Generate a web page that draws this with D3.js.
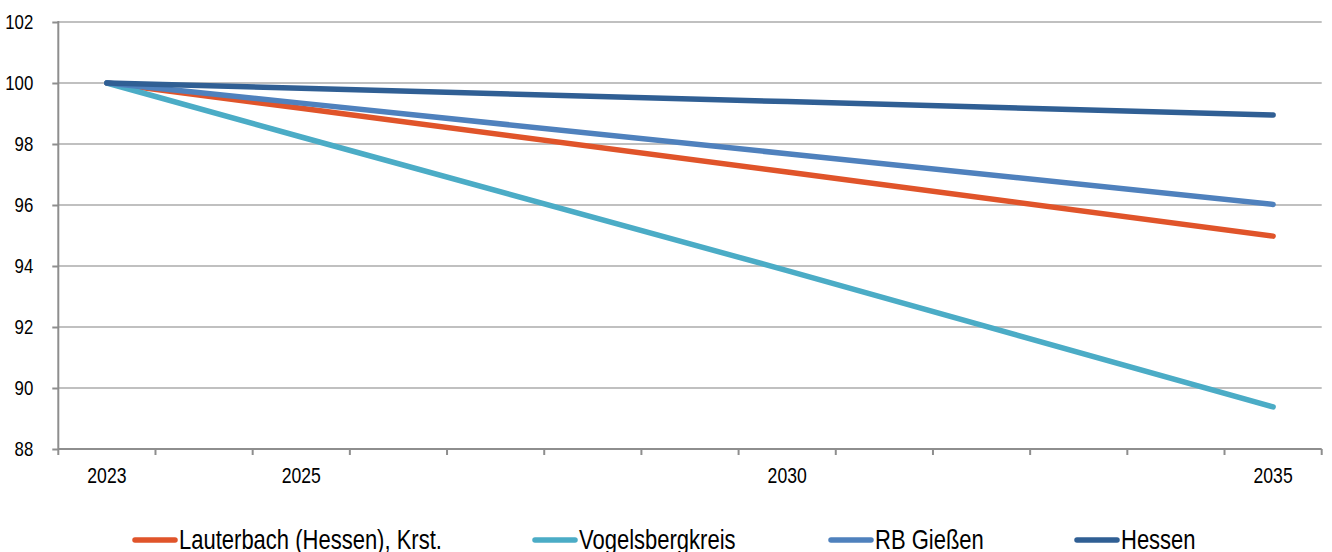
<!DOCTYPE html>
<html>
<head>
<meta charset="utf-8">
<script src="https://cdn.jsdelivr.net/npm/d3@7"></script>
<style>
  body { margin: 0; background: #fff; }
  text { font-family: "Liberation Sans", Arial, sans-serif; fill: #000; }
</style>
</head>
<body>
<script>
// years on the category axis
var years = [2023, 2024, 2025, 2026, 2027, 2028, 2029, 2030, 2031, 2032, 2033, 2034, 2035]
var labelYears = [2023, 2025, 2030, 2035]
var yTicks = [88, 90, 92, 94, 96, 98, 100, 102]

// index 2023 = 100, read at 2023, 2025, 2030, 2035
var dataYears = [2023, 2025, 2030, 2035]
var lauterbach = [100, 99.17, 97.08, 94.98]
var vogelsberg = [100, 98.23, 93.85, 89.38]
var giessen = [100, 99.34, 97.68, 96.02]
var hessen = [100, 99.83, 99.39, 98.95]

var seriesNames = ["Lauterbach (Hessen), Krst.", "Vogelsbergkreis", "RB Gießen", "Hessen"]
var seriesColors = ["#E0542A", "#4BACC6", "#4F81BD", "#305F94"]
var seriesValues = [lauterbach, vogelsberg, giessen, hessen]

;(function () {
var width = 1332, height = 552
var mLeft = 58.3, mRight = 1321.7, mTop = 22, mBottom = 449

var svg = d3.select("body").append("svg")
  .attr("width", width)
  .attr("height", height)

var x = d3.scaleBand().domain(years).range([mLeft, mRight])
var y = d3.scaleLinear().domain([88, 102]).range([mBottom, mTop])

// narrow look (Arial Narrow style) by squeezing the glyphs
function narrow(sel) {
  sel.each(function () {
    var len = this.getComputedTextLength()
    d3.select(this).attr("textLength", len * 0.8).attr("lengthAdjust", "spacingAndGlyphs")
  })
}

// gridlines
svg.selectAll(".grid")
  .data(yTicks.filter(function(d) { return d > 88 }))
  .enter().append("line")
  .attr("x1", mLeft)
  .attr("x2", mRight)
  .attr("y1", function(d) { return y(d) })
  .attr("y2", function(d) { return y(d) })
  .attr("stroke", "#ABABAB")
  .attr("stroke-width", 1.5)

// y axis
var yAxis = svg.append("g")
  .attr("transform", "translate(" + mLeft + " 0)")
  .call(d3.axisLeft(y).tickValues(yTicks).tickSize(6).tickPadding(19))
yAxis.select(".domain").attr("stroke", "#8E8E8E").attr("stroke-width", 2)
  .attr("d", "M0," + (mTop - 1) + "V" + mBottom)
yAxis.selectAll(".tick line").attr("stroke", "#8E8E8E").attr("stroke-width", 2)
yAxis.selectAll(".tick text").attr("font-family", null).style("font-size", "21px").attr("fill", "#000").call(narrow)

// x axis: ticks at category boundaries
var xAxis = svg.append("g")
  .attr("transform", "translate(0 " + mBottom + ")")
xAxis.append("line")
  .attr("x1", mLeft).attr("x2", mRight)
  .attr("stroke", "#8E8E8E").attr("stroke-width", 2)
var bounds = years.map(function(d) { return x(d) }).concat([mRight])
xAxis.selectAll(".xt")
  .data(bounds)
  .enter().append("line")
  .attr("x1", function(d) { return d })
  .attr("x2", function(d) { return d })
  .attr("y1", 0)
  .attr("y2", 6)
  .attr("stroke", "#8E8E8E").attr("stroke-width", 2)
xAxis.selectAll(".xl")
  .data(labelYears)
  .enter().append("text")
  .attr("x", function(d) { return x(d) + x.bandwidth() / 2 })
  .attr("y", 34)
  .attr("text-anchor", "middle")
  .style("font-size", "22px")
  .text(function(d) { return d })
  .call(narrow)

// lines
var line = d3.line()
  .x(function(d, i) { return x(dataYears[i]) + x.bandwidth() / 2 })
  .y(function(d) { return y(d) })

svg.selectAll(".series")
  .data(seriesValues)
  .enter().append("path")
  .attr("d", line)
  .attr("fill", "none")
  .attr("stroke", function(d, i) { return seriesColors[i] })
  .attr("stroke-width", 5.5)
  .attr("stroke-linecap", "round")
  .attr("stroke-linejoin", "round")

// legend
var legendX = [133, 533, 829, 1075]
var legend = svg.selectAll(".legend")
  .data(seriesNames)
  .enter().append("g")
  .attr("transform", function(d, i) { return "translate(" + legendX[i] + " 540)" })
legend.append("line")
  .attr("x1", 2).attr("x2", 42)
  .attr("stroke", function(d, i) { return seriesColors[i] })
  .attr("stroke-width", 5.5)
  .attr("stroke-linecap", "round")
legend.append("text")
  .attr("x", 46)
  .attr("y", 9)
  .style("font-size", "27.5px")
  .text(function(d) { return d })
  .call(narrow)
})()
</script>
</body>
</html>
